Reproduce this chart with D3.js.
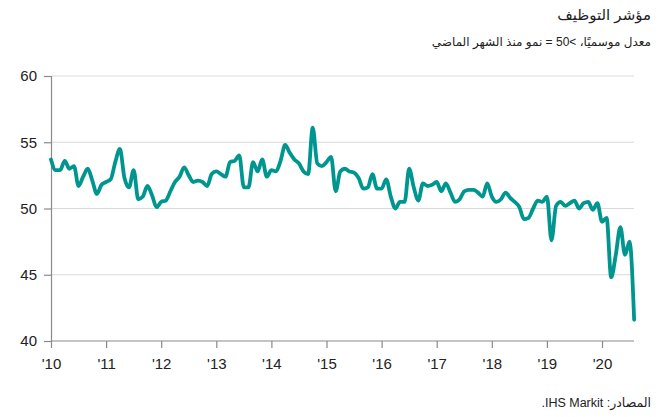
<!DOCTYPE html>
<html>
<head>
<meta charset="utf-8">
<script src="https://cdn.jsdelivr.net/npm/d3@7"></script>
<style>
  body { margin: 0; background: #fff; }
  #chart { position: relative; width: 668px; height: 417px; }
  .note { position: absolute; right: 17px; font-family: "Liberation Sans", Arial, "DejaVu Sans", sans-serif; color: #222; white-space: nowrap; }
  .axis text { font-family: "Liberation Sans Narrow", "Arial Narrow", "Liberation Sans", sans-serif; font-size: 15px; fill: #222; }
</style>
</head>
<body>
<div id="chart"></div>
<script>
document.addEventListener('DOMContentLoaded', function() {
    // Monthly employment index, Jan 2010 .. Aug 2020
    const startYear = 2010;
    const values = [
        53.7, 52.9, 52.9, 53.6, 53.0, 53.2, 51.7, 52.4, 53.0, 52.1, 51.1, 51.8,
        52.0, 52.2, 53.5, 54.5, 52.3, 51.6, 52.9, 50.7, 50.9, 51.7, 51.0, 50.1,
        50.5, 50.6, 51.3, 52.0, 52.4, 53.1, 52.5, 52.0, 52.1, 52.0, 51.7, 52.6,
        52.8, 52.6, 52.4, 53.5, 53.6, 54.0, 51.6, 51.6, 53.5, 52.8, 53.7, 52.4,
        52.9, 52.8, 53.6, 54.8, 54.2, 53.7, 53.4, 52.8, 52.6, 56.1, 53.4, 53.2,
        53.5, 53.9, 51.3, 52.8, 53.0, 52.8, 52.7, 52.3, 51.5, 51.6, 52.6, 51.5,
        51.5, 52.2, 50.9, 50.0, 50.5, 50.5, 53.0, 51.6, 50.6, 51.9, 51.7, 51.8,
        52.0, 51.3, 51.9, 51.2, 50.5, 50.7, 51.3, 51.4, 51.4, 51.2, 50.9, 51.9,
        50.9, 50.5, 50.7, 51.2, 50.8, 50.5, 50.1, 49.2, 49.3, 50.0, 50.6, 50.5,
        50.9, 47.6, 50.2, 50.5, 50.2, 50.4, 50.6, 50.0, 50.4, 50.5, 49.9, 50.4,
        49.0, 49.3, 44.8, 46.5, 48.6, 46.5, 47.5, 41.6
    ];
    const years = [2010, 2011, 2012, 2013, 2014, 2015, 2016, 2017, 2018, 2019, 2020];
    const yTicks = [40, 45, 50, 55, 60];

    const title = 'مؤشر التوظيف';
    const subtitle = 'معدل موسميًا، >50 = نمو منذ الشهر الماضي';
    const source = 'المصادر: IHS Markit.';

    const width = 668, height = 417;
    const left = 51, right = 634, top = 76, bottom = 341;

    const data = values.map((v, i) => ({ t: startYear + i / 12, v: v }));

    const x = d3.scaleLinear().domain([2010, 2020]).range([left, left + 55.1 * 10]);
    const y = d3.scaleLinear().domain([40, 60]).range([bottom, top]);

    const chart = d3.select('#chart');

    chart.append('div').attr('class', 'note').attr('dir', 'rtl')
        .style('top', '6px').style('font-size', '15px')
        .text(title);
    chart.append('div').attr('class', 'note').attr('dir', 'rtl')
        .style('top', '35px').style('font-size', '12px')
        .text(subtitle);
    chart.append('div').attr('class', 'note').attr('dir', 'rtl')
        .style('top', '395px').style('font-size', '12.5px')
        .text(source);

    const svg = chart.append('svg')
        .attr('width', width)
        .attr('height', height)
        .style('position', 'absolute').style('left', 0).style('top', 0);

    // Gridlines
    svg.append('g')
        .selectAll('line')
        .data(yTicks.filter(d => d > 40))
        .enter()
        .append('line')
        .attr('x1', left)
        .attr('x2', right)
        .attr('y1', d => y(d))
        .attr('y2', d => y(d))
        .attr('stroke', '#d9d9d9')
        .attr('stroke-width', 1.2);

    // Y axis
    const yAxis = svg.append('g')
        .attr('class', 'axis')
        .attr('transform', `translate(${left},0)`)
        .call(d3.axisLeft(y).tickValues(yTicks).tickSize(7).tickPadding(7));
    yAxis.select('.domain').attr('stroke', '#8a8a8a').attr('stroke-width', 1.2);
    yAxis.selectAll('.tick line').attr('stroke', '#8a8a8a').attr('stroke-width', 1.2);

    // X axis
    const xAxis = svg.append('g')
        .attr('class', 'axis')
        .attr('transform', `translate(0,${bottom})`)
        .call(d3.axisBottom(x).tickValues(years).tickSize(7).tickPadding(10)
            .tickFormat(d => "'" + String(d).slice(2)));
    xAxis.select('.domain').attr('d', `M${left},0H${right}`)
        .attr('stroke', '#8a8a8a').attr('stroke-width', 1.2);
    xAxis.selectAll('.tick line').attr('stroke', '#8a8a8a').attr('stroke-width', 1.2);

    // Line
    const line = d3.line()
        .x(d => x(d.t))
        .y(d => y(d.v))
        .curve(d3.curveMonotoneX);

    svg.append('path')
        .datum(data)
        .attr('fill', 'none')
        .attr('stroke', '#009690')
        .attr('stroke-width', 3.8)
        .attr('stroke-linejoin', 'round')
        .attr('stroke-linecap', 'round')
        .attr('d', line);
});
</script>
</body>
</html>
